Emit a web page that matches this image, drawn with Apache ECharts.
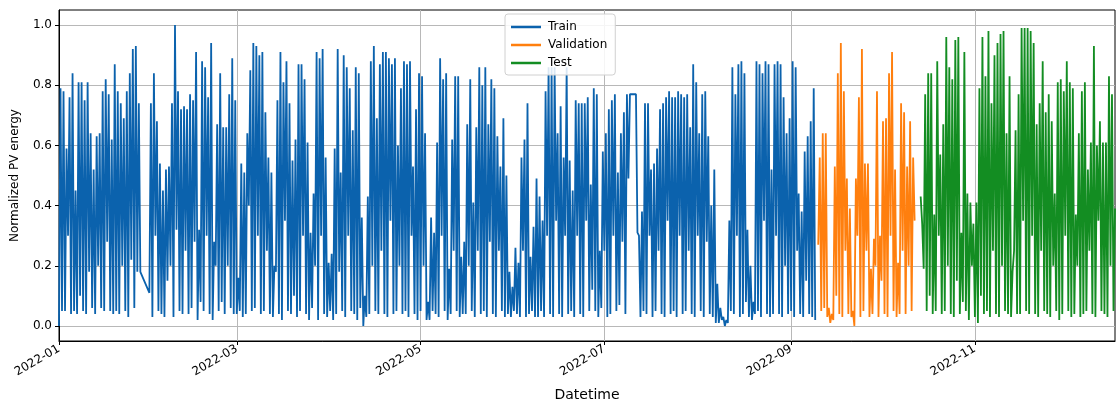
<!DOCTYPE html>
<html>
<head>
<meta charset="utf-8">
<script src="https://cdn.jsdelivr.net/npm/echarts@6/dist/echarts.min.js"></script>
<style>
html,body{margin:0;padding:0;background:#fff;}
#c{width:1116px;height:403px;}
</style>
</head>
<body>
<div id="c"></div>
<script>
// x ticks: day offsets from 2022-01-01
var tickDays = [0, 59, 120, 181, 243, 304];
var tickLabels = ['2022-01', '2022-03', '2022-05', '2022-07', '2022-09', '2022-11'];
var yTicks = [0.0, 0.2, 0.4, 0.6, 0.8, 1.0];

// Train: one value per day starting 2022-01-01 (day 0); daily peak (midday) and daily low (start of day)
var trainStart = 0;
var trainPeaks = [
  0.79,0.78,0.59,0.76,0.84,0.45,0.81,0.81,0.75,0.81,0.64,0.52,0.63,0.64,0.78,0.82,0.77,0.62,0.87,0.78,0.74,0.69,0.78,0.84,0.92,0.93,0.74,
  null,null,null,
  0.74,0.84,0.68,0.54,0.45,0.52,0.53,0.74,1.00,0.78,0.72,0.73,0.72,0.77,0.75,0.91,0.32,0.88,0.86,0.76,0.94,0.28,0.67,0.84,0.66,0.66,0.77,0.89,
  0.75,0.16,0.54,0.51,0.64,0.85,0.94,0.93,0.90,0.91,0.71,0.56,0.51,0.20,0.75,0.91,0.81,0.88,0.74,0.55,0.62,0.87,0.87,0.82,0.61,0.31,0.44,0.91,0.89,
  0.92,0.56,0.21,0.24,0.59,0.92,0.51,0.90,0.86,0.79,0.65,0.86,0.84,0.36,0.10,0.43,0.88,0.93,0.69,0.87,0.91,0.91,0.89,0.87,0.89,0.60,0.79,0.88,0.87,
  0.88,0.53,0.72,0.84,0.83,0.64,0.08,0.36,0.31,0.61,0.89,0.82,0.84,0.19,0.62,0.83,0.83,0.23,0.28,0.67,0.82,0.41,0.66,0.86,0.80,0.86,0.67,0.82,0.79,
  0.63,0.53,0.69,0.50,0.18,0.13,0.26,0.21,0.56,0.62,0.74,0.23,0.33,0.49,0.43,0.35,0.78,0.86,0.86,0.86,0.64,0.73,0.56,0.86,0.55,0.45,0.75,0.74,0.74,
  0.74,0.76,0.47,0.79,0.77,0.25,0.58,0.64,0.72,0.75,0.77,0.51,0.64,0.71,0.77,
  0.77,null,0.77,
  0.30,0.38,0.74,0.74,0.52,0.54,0.59,0.72,0.74,0.76,0.78,0.76,
  0.76,0.78,0.77,0.76,0.77,0.66,0.87,0.81,0.64,0.77,0.78,0.63,0.40,0.52,0.14,0.06,0.03,0.02,0.35,0.86,0.77,0.87,0.88,0.84,0.32,0.20,0.08,0.88,0.87,
  0.84,0.88,0.87,0.52,0.87,0.88,0.87,0.76,0.64,0.69,0.88,0.86,0.44,0.38,0.58,0.63,0.68,0.79
];
var trainLows = [
  0.00,0.05,0.05,0.30,0.04,0.05,0.04,0.10,0.05,0.04,
  0.18,0.06,0.04,0.20,0.06,0.05,0.28,0.05,0.04,0.05,
  0.04,0.20,0.05,0.03,0.22,0.06,0.18,0.18,null,null,
  0.11,0.03,0.30,0.05,0.04,0.03,0.15,0.20,0.03,0.32,
  0.05,0.04,0.25,0.04,0.06,0.28,0.02,0.08,0.05,0.30,
  0.04,0.02,0.20,0.05,0.08,0.04,0.20,0.06,0.04,0.04,
  0.05,0.03,0.04,0.40,0.05,0.06,0.30,0.04,0.05,0.25,
  0.04,0.03,0.18,0.04,0.02,0.35,0.05,0.04,0.10,0.03,
  0.05,0.30,0.04,0.02,0.06,0.20,0.02,0.30,0.04,0.03,
  0.05,0.02,0.04,0.18,0.05,0.03,0.30,0.05,0.04,0.02,
  0.06,0.00,0.03,0.04,0.20,0.05,0.04,0.25,0.04,0.03,
  0.35,0.04,0.05,0.20,0.04,0.05,0.03,0.30,0.04,0.02,
  0.05,0.20,0.02,0.02,0.05,0.04,0.03,0.30,0.05,0.02,
  0.04,0.25,0.05,0.03,0.04,0.04,0.20,0.05,0.03,0.25,
  0.04,0.05,0.03,0.28,0.04,0.03,0.25,0.05,0.03,0.04,
  0.03,0.05,0.04,0.03,0.25,0.03,0.04,0.05,0.03,0.03,
  0.05,0.03,0.30,0.04,0.03,0.35,0.04,0.03,0.30,0.04,
  0.05,0.03,0.30,0.04,0.03,0.35,0.05,0.12,0.05,0.03,
  0.06,0.25,0.03,0.04,0.30,0.05,0.07,0.28,0.04,0.49,
  null,null,0.31,0.03,0.05,0.04,0.30,0.03,0.05,0.25,
  0.04,0.03,0.35,0.04,0.05,0.03,0.30,0.04,0.05,0.25,
  0.04,0.03,0.30,0.05,0.03,0.28,0.04,0.03,0.01,0.01,
  0.02,0.00,0.01,0.05,0.04,0.30,0.03,0.04,0.08,0.03,
  0.02,0.04,0.05,0.03,0.35,0.04,0.03,0.04,0.30,0.04,
  0.03,0.20,0.04,0.05,0.03,0.25,0.04,0.03,0.15,0.04,0.03,0.02
];

// Validation starts day 252 (2022-09-10)
var valStart = 252;
var valPeaks = [
  0.56,0.64,0.64,0.06,0.04,0.53,0.84,0.94,0.78,0.49,
  0.39,0.05,0.49,0.76,0.92,0.54,0.54,0.19,0.29,0.78,0.30,0.68,0.69,0.84,0.91,0.52,0.21,0.74,0.71,0.53,0.68,0.56
];
var valLows = [
  0.27,0.05,0.06,0.03,0.01,0.02,0.10,0.04,0.03,0.25,
  0.04,0.03,0.00,0.30,0.03,0.05,0.25,0.03,0.04,0.20,
  0.03,0.15,0.04,0.03,0.30,0.05,0.03,0.04,0.25,0.04,
  0.20,0.05,0.35
];

// Test starts day 286 (2022-10-14)
var testStart = 286;
var testPeaks = [
  0.34,0.77,0.84,0.84,0.37,0.88,
  0.57,0.67,0.96,0.86,0.82,0.95,0.96,0.31,0.91,0.44,0.41,0.34,0.41,0.79,0.96,0.83,0.98,0.74,0.90,0.94,0.97,0.98,0.64,0.83,0.18,0.65,0.77,0.99,
  0.99,0.99,0.98,0.94,0.67,0.74,0.88,0.71,0.77,0.68,0.44,0.81,0.82,0.78,0.88,0.81,0.79,0.37,0.64,0.78,0.81,0.52,0.61,0.93,0.60,0.68,0.61,0.61,0.83,0.77,0.39
];
var testLows = [
  0.43,0.19,0.05,0.10,0.04,0.05,
  0.30,0.04,0.05,0.20,0.04,0.03,0.15,0.04,0.08,0.05,0.02,0.20,0.03,0.01,0.10,0.04,0.05,0.03,0.25,0.04,0.03,0.20,0.05,0.04,0.03,0.25,0.04,0.04,
  0.35,0.05,0.04,0.30,0.04,0.03,0.25,0.05,0.04,0.03,0.20,0.05,0.02,0.04,0.30,0.05,0.03,0.04,0.20,0.03,0.04,0.05,0.25,0.04,0.03,0.35,0.05,0.04,0.03,0.20,0.05
];

var xMaxDay = 350.5;

function build(start, lows, peaks) {
  var out = [];
  var n = Math.max(lows.length, peaks.length);
  for (var i = 0; i < n; i++) {
    var d = start + i;
    if (i < lows.length && lows[i] != null) out.push([d, lows[i]]);
    if (i < peaks.length && peaks[i] != null) out.push([d + 0.5, peaks[i]]);
  }
  return out;
}

var FONT = 'DejaVu Sans';
var chart = echarts.init(document.getElementById('c'), null, {renderer: 'canvas'});
var option = {
  animation: false,
  backgroundColor: '#fff',
  grid: {left: 59, right: 1, top: 10, bottom: 62, containLabel: false, outerBoundsMode: 'none',
         show: true, borderColor: '#000', borderWidth: 1, backgroundColor: 'transparent'},
  legend: {
    orient: 'vertical', left: 505, top: 14,
    padding: [7, 8, 6, 6], itemGap: 6, itemWidth: 30, itemHeight: 2.5,
    icon: 'rect',
    backgroundColor: 'rgba(255,255,255,0.85)', borderColor: '#d0d0d0', borderWidth: 1, borderRadius: 3,
    textStyle: {fontFamily: FONT, fontSize: 12, color: '#000', padding: [0, 0, 0, 2]},
    data: ['Train', 'Validation', 'Test']
  },
  xAxis: {
    type: 'value', min: 0, max: xMaxDay,
    name: 'Datetime', nameLocation: 'middle', nameGap: 47,
    nameTextStyle: {fontFamily: FONT, fontSize: 14, color: '#000'},
    axisLine: {show: true, onZero: false, lineStyle: {color: '#000', width: 1}},
    axisTick: {show: true, length: 4, lineStyle: {color: '#000'}, customValues: tickDays},
    axisLabel: {
      customValues: tickDays, rotate: 30, margin: 7,
      fontFamily: FONT, fontSize: 12, color: '#000',
      formatter: function (v) { var k = tickDays.indexOf(Math.round(v)); return k >= 0 ? tickLabels[k] : ''; }
    },
    splitLine: {show: true, lineStyle: {color: '#b8b8b8', width: 1}}
  },
  yAxis: {
    type: 'value', min: -0.05, max: 1.05,
    name: 'Normalized PV energy', nameLocation: 'middle', nameGap: 38, nameRotate: 90,
    nameTextStyle: {fontFamily: FONT, fontSize: 12, color: '#000'},
    axisLine: {show: true, onZero: false, lineStyle: {color: '#000', width: 1}},
    axisTick: {show: true, length: 4, lineStyle: {color: '#000'}, customValues: yTicks},
    axisLabel: {
      customValues: yTicks, margin: 7,
      fontFamily: FONT, fontSize: 12, color: '#000',
      formatter: function (v) { return (Math.round(v * 10) / 10).toFixed(1); }
    },
    splitLine: {show: true, lineStyle: {color: '#b8b8b8', width: 1}}
  },
  series: [
    {name: 'Train', type: 'line', data: build(trainStart, trainLows, trainPeaks), showSymbol: false, symbol: 'none',
     lineStyle: {color: '#0b62ad', width: 1.8}, itemStyle: {color: '#0b62ad'}, clip: true, z: 2},
    {name: 'Validation', type: 'line', data: build(valStart, valLows, valPeaks), showSymbol: false, symbol: 'none',
     lineStyle: {color: '#ff7f0e', width: 1.8}, itemStyle: {color: '#ff7f0e'}, clip: true, z: 2},
    {name: 'Test', type: 'line', data: build(testStart, testLows, testPeaks), showSymbol: false, symbol: 'none',
     lineStyle: {color: '#138d22', width: 1.8}, itemStyle: {color: '#138d22'}, clip: true, z: 2}
  ]
};
chart.setOption(option);
</script>
</body>
</html>
